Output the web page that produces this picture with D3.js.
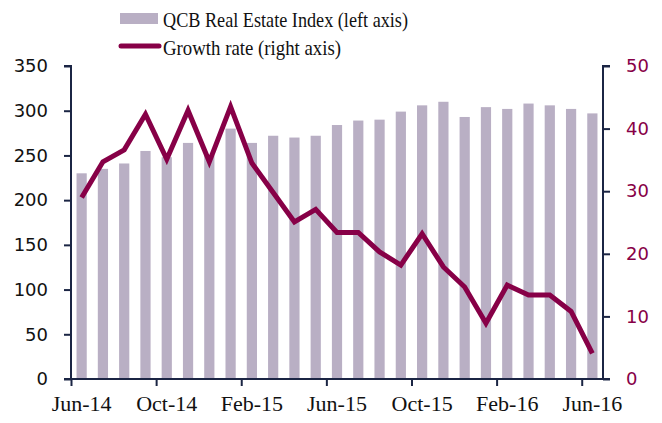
<!DOCTYPE html>
<head>
  <meta charset="utf-8">
  <script src="https://cdn.jsdelivr.net/npm/d3@7"></script>
  <style>
    body { margin: 0; background: #fff; }
  </style>
</head>
<body>
  <svg width="662" height="423"></svg>
  <script>

  var months = ["Jun-14","Jul-14","Aug-14","Sep-14","Oct-14","Nov-14","Dec-14","Jan-15","Feb-15",
                "Mar-15","Apr-15","May-15","Jun-15","Jul-15","Aug-15","Sep-15","Oct-15","Nov-15",
                "Dec-15","Jan-16","Feb-16","Mar-16","Apr-16","May-16","Jun-16"];

  var indexValues = [230, 235, 241, 255, 248, 264, 250, 280, 264, 272, 270, 272, 284,
                     289, 290, 299, 306, 310, 293, 304, 302, 308, 306, 302, 297];

  var growthValues = [29.0, 34.7, 36.6, 42.3, 35.1, 42.9, 34.7, 43.5, 34.5, 29.8, 25.1, 27.1, 23.4,
                      23.4, 20.3, 18.2, 23.2, 17.9, 14.7, 8.9, 15.0, 13.4, 13.4, 10.8, 4.1];

  var leftTicks = [0, 50, 100, 150, 200, 250, 300, 350];
  var rightTicks = [0, 10, 20, 30, 40, 50];
  var labelMonths = ["Jun-14","Oct-14","Feb-15","Jun-15","Oct-15","Feb-16","Jun-16"];

  var svg = d3.select("svg");
  var plotLeft = 71, plotRight = 603, plotTop = 66, plotBottom = 379;
  var barColor = "#b9afc4", lineColor = "#870047", axisColor = "#1b2544";

  var x = d3.scaleBand()
      .domain(months)
      .range([plotLeft, plotRight])
      .paddingInner(0.52)
      .paddingOuter(0.26);

  // boundaries between categories, for the tick marks
  var xb = d3.scaleLinear().domain([0, months.length]).range([plotLeft, plotRight]);

  var yL = d3.scaleLinear().domain([0, 350]).range([plotBottom, plotTop]);
  var yR = d3.scaleLinear().domain([0, 50]).range([plotBottom, plotTop]);

  svg.append("g")
    .selectAll("rect")
    .data(indexValues)
    .enter().append("rect")
      .attr("x", function(d, i) { return x(months[i]); })
      .attr("width", x.bandwidth())
      .attr("y", function(d) { return yL(d); })
      .attr("height", function(d) { return plotBottom - yL(d); })
      .attr("fill", barColor);

  var line = d3.line()
      .x(function(d, i) { return x(months[i]) + x.bandwidth() / 2; })
      .y(function(d) { return yR(d); });

  svg.append("path")
      .datum(growthValues)
      .attr("d", line)
      .attr("fill", "none")
      .attr("stroke", lineColor)
      .attr("stroke-width", 5)
      .attr("stroke-linejoin", "miter");

  // left axis
  var gl = svg.append("g")
      .attr("transform", "translate(" + plotLeft + ",0)")
      .call(d3.axisLeft(yL).tickValues(leftTicks).tickSize(7).tickPadding(16));
  gl.selectAll("text").attr("font-size", 18).attr("fill", "#111").attr("font-family", "DejaVu Sans");

  // right axis
  var gr = svg.append("g")
      .attr("transform", "translate(" + plotRight + ",0)")
      .call(d3.axisRight(yR).tickValues(rightTicks).tickSize(7).tickPadding(16));
  gr.selectAll("text").attr("font-size", 18).attr("fill", lineColor).attr("font-family", "DejaVu Sans");

  // bottom axis: tick marks at category boundaries, labels at categories
  var gb = svg.append("g")
      .attr("transform", "translate(0," + plotBottom + ")")
      .call(d3.axisBottom(xb).tickValues(d3.range(0, 25, 4)).tickSize(7).tickFormat(""));

  var gbl = svg.append("g")
      .attr("transform", "translate(0," + plotBottom + ")")
      .call(d3.axisBottom(x).tickValues(labelMonths).tickSize(0).tickPadding(16));
  gbl.select(".domain").remove();
  gbl.selectAll("text").attr("font-size", 22).attr("fill", "#111").attr("font-family", "Liberation Serif");

  svg.selectAll(".domain, .tick line").attr("stroke", axisColor).attr("stroke-width", 2);
  gl.select(".domain").attr("d", "M0," + plotBottom + "V" + plotTop + "H-7");
  gr.select(".domain").attr("d", "M0," + plotBottom + "V" + plotTop + "H7");
  gb.select(".domain").attr("d", "M" + (plotLeft - 7) + ",0H" + (plotRight + 7));

  // legend
  var lg = svg.append("g").attr("font-family", "Liberation Serif").attr("font-size", 21).attr("fill", "#111");
  lg.append("rect").attr("x", 120).attr("y", 13).attr("width", 38).attr("height", 11).attr("fill", barColor);
  lg.append("text").attr("x", 163).attr("y", 27)
    .attr("textLength", 245).attr("lengthAdjust", "spacingAndGlyphs")
    .text("QCB Real Estate Index (left axis)");
  lg.append("line").attr("x1", 121).attr("x2", 159).attr("y1", 46).attr("y2", 46)
    .attr("stroke", lineColor).attr("stroke-width", 5).attr("stroke-linecap", "round");
  lg.append("text").attr("x", 163).attr("y", 55)
    .attr("textLength", 178).attr("lengthAdjust", "spacingAndGlyphs")
    .text("Growth rate (right axis)");

  </script>
</body>
